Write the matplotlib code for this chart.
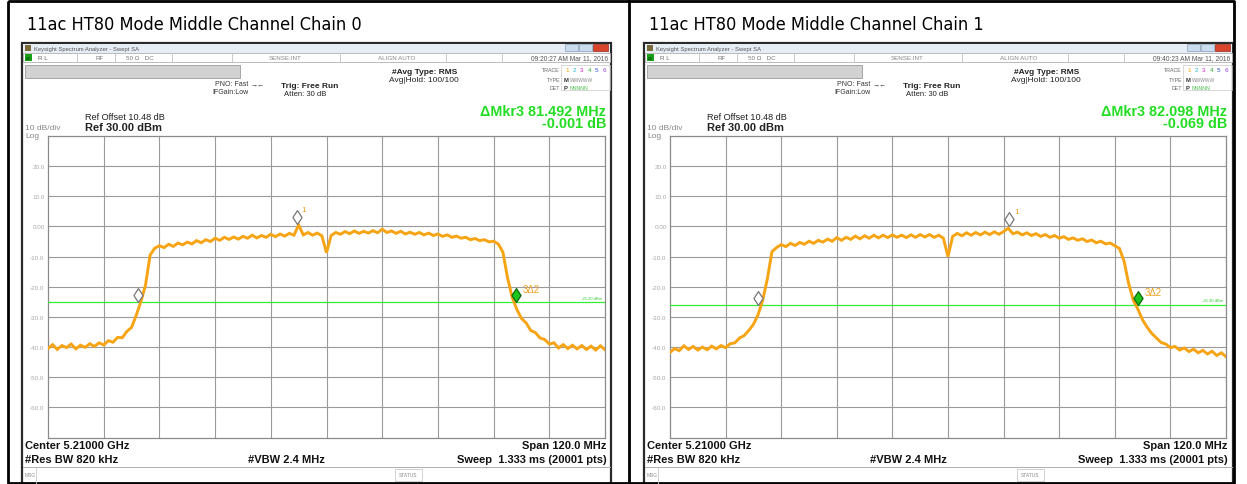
import numpy as np
import matplotlib
matplotlib.use("Agg")
import matplotlib.pyplot as plt
from matplotlib.patches import Rectangle
from matplotlib.path import Path
from matplotlib.textpath import TextPath
from matplotlib import font_manager
from matplotlib.font_manager import FontProperties

W, H = 1247, 485

# ---------------- data ----------------
titles = ["11ac HT80 Mode Middle Channel Chain 0", "11ac HT80 Mode Middle Channel Chain 1"]
timestamps = ["09:20:27 AM Mar 11, 2016", "09:40:23 AM Mar 11, 2016"]
delta_freq_text = ["\u0394Mkr3 81.492 MHz", "\u0394Mkr3 82.098 MHz"]
delta_amp_text = ["-0.001 dB", "-0.069 dB"]
line_labels = ["-25.20 dBm", "-25.90 dBm"]

y_ticks = [20, 10, 0, -10, -20, -30, -40, -50, -60]
y_tick_labels = ["20.0", "10.0", "0.00", "-10.0", "-20.0", "-30.0", "-40.0", "-50.0", "-60.0"]
x_grid = [-48, -36, -24, -12, 0, 12, 24, 36, 48]

freq_mhz = list(range(-60, 61))
trace_chain0 = [
    -40.5, -39.2, -40.8, -39.5, -40.2, -39.0, -40.6, -39.4, -40.1, -38.9,
    -39.8, -38.6, -39.3, -37.9, -38.4, -36.8, -36.9, -34.8, -33.5, -29.5,
    -25.0, -19.5, -9.5, -7.2, -6.4, -7.0, -5.9, -6.6, -5.5, -6.1,
    -5.2, -5.8, -4.7, -5.4, -4.4, -5.0, -3.9, -4.6, -3.6, -4.3,
    -3.5, -4.2, -3.3, -3.9, -2.9, -3.8, -3.0, -3.6, -2.6, -3.4,
    -2.5, -3.2, -2.3, -2.9, 0.5, -2.8, -2.0, -2.9, -2.2, -3.1,
    -8.7,
    -3.0, -2.0, -2.6, -1.7, -2.4, -1.5, -2.3, -1.6, -2.2, -1.4,
    -2.1, -0.9, -2.0, -1.5, -2.3, -1.6, -2.5, -1.9, -2.6, -2.0,
    -2.8, -2.2, -3.0, -2.5, -3.3, -2.8, -3.6, -3.2, -3.9, -3.6,
    -4.4, -4.0, -4.7, -4.4, -5.1, -4.9, -5.8, -8.5, -17.0, -23.5,
    -27.5, -30.5, -32.0, -34.5, -35.2, -37.0, -37.5, -39.0, -38.6, -40.3,
    -39.2, -40.5, -39.4, -40.6, -39.5, -40.8, -39.7, -41.0, -39.6, -40.9,
]
trace_chain1 = [
    -41.8, -40.5, -41.2, -39.6, -40.8, -39.8, -41.0, -40.0, -40.9, -39.7,
    -40.6, -39.5, -40.2, -38.9, -38.6, -37.0, -36.2, -34.5, -32.5, -29.3,
    -24.5, -17.5, -8.4, -7.0, -6.0, -6.7, -5.6, -6.3, -5.3, -5.9,
    -4.9, -5.6, -4.6, -5.2, -4.2, -4.9, -3.7, -4.6, -3.6, -4.3,
    -3.2, -4.1, -3.1, -3.9, -2.9, -3.8, -2.9, -3.7, -2.8, -3.6,
    -2.9, -3.7, -2.8, -3.6, -2.7, -3.5, -2.7, -3.6, -2.9, -3.9,
    -10.0,
    -3.3, -2.3, -3.1, -2.1, -2.9, -2.0, -2.8, -1.9, -2.7, -1.8,
    -2.6, -1.7, -0.6, -2.4, -1.9, -2.8, -2.1, -3.0, -2.4, -3.3,
    -2.7, -3.6, -3.0, -3.9, -3.4, -4.3, -3.8, -4.6, -4.1, -5.0,
    -4.5, -5.4, -4.9, -5.8, -5.5, -6.4, -7.3, -11.5, -19.0, -24.5,
    -27.5, -31.0, -33.5, -35.5, -37.0, -38.5, -39.0, -40.2, -39.8, -41.0,
    -40.3, -41.5, -40.7, -41.9, -41.1, -42.3, -41.4, -42.8, -41.9, -43.2,
]
traces = [trace_chain0, trace_chain1]
marker1 = [(-6.4, 0.8), (13.2, 0.1)]
marker2 = [(-40.6, -25.2), (-41.0, -25.9)]
marker3 = [(40.9, -25.2), (41.1, -25.9)]
display_line = [-25.2, -25.9]

# ---------------- style ----------------
plt.rcParams["font.family"] = ["Liberation Sans", "DejaVu Sans"]

TRACE_C = "#f7a414"
GREEN = "#22dd22"
GRID_C = "#9a9a9a"

# choose a (possibly condensed) sans font for the big titles so that the
# text fits ~330 px wide while being ~18 px tall like the reference
TITLE_W_PX, TITLE_CAP_PX = 330.0, 18.0
cands = []
for fe in font_manager.fontManager.ttflist:
    if fe.style != "normal":
        continue
    if fe.weight not in (400, "normal", "regular", "book"):
        continue
    if fe.name in ("Liberation Sans", "Liberation Sans Narrow", "Arimo") or \
            (fe.stretch != "normal" and fe.name in ("Noto Sans", "DejaVu Sans", "Open Sans", "Roboto")):
        cands.append(fe.fname)
best = None
for fn in sorted(set(cands)):
    try:
        fp = FontProperties(fname=fn, size=10)
        w = TextPath((0, 0), titles[0], prop=fp).get_extents().width
        cap = TextPath((0, 0), "H", prop=fp).get_extents().height
        size = TITLE_W_PX / (w / 10 * 100 / 72)
        cap_px = cap / 10 * size * 100 / 72
        score = abs(cap_px - TITLE_CAP_PX)
        if best is None or score < best[0]:
            best = (score, fn, size)
    except Exception:
        pass
if best is not None:
    TITLE_FP = FontProperties(fname=best[1], size=best[2])
else:
    TITLE_FP = FontProperties(family="Liberation Sans", size=13)

fig = plt.figure(figsize=(W / 100, H / 100), dpi=100)
bg = fig.add_axes([0, 0, 1, 1])
bg.set_xlim(0, W)
bg.set_ylim(H, 0)
bg.axis("off")


def T(x, y, s, **kw):
    kw.setdefault("va", "center")
    kw.setdefault("ha", "left")
    return bg.text(x, y, s, **kw)


def R(x0, y0, x1, y1, **kw):
    bg.add_patch(Rectangle((x0, y0), x1 - x0, y1 - y0, **kw))


# table borders
bg.plot([8, 1234, 1234, 8, 8], [1.5, 1.5, 484, 484, 1.5], color="black", lw=2, solid_capstyle="butt")
bg.plot([629, 629], [1.5, 485], color="black", lw=2)

diamond = Path([(0, 0), (0.33, 0.5), (0, 1), (-0.33, 0.5), (0, 0)],
               [Path.MOVETO, Path.LINETO, Path.LINETO, Path.LINETO, Path.CLOSEPOLY])

panels = [(22, 611, 48, 605), (644, 1233, 670, 1226)]

for i, (sx0, sx1, gx0, gx1) in enumerate(panels):
    # title text
    T(sx0 + 5, 25, titles[i], fontproperties=TITLE_FP, color="black")

    # screenshot frame
    R(sx0, 44, sx1, 486, facecolor="white", edgecolor="#2a2a2a", lw=1.6, zorder=1)
    # title bar
    R(sx0 + 1, 44.5, sx1 - 1, 53.5, facecolor="#e6edf5", edgecolor="none", zorder=2)
    R(sx0 + 3, 46, sx0 + 9, 51.5, facecolor="#7a6a3a", edgecolor="none", zorder=3)
    T(sx0 + 12, 49, "Keysight Spectrum Analyzer - Swept SA", fontsize=4.2, color="#555555", zorder=3)
    R(sx1 - 46, 45, sx1 - 33, 52, facecolor="#c9dcee", edgecolor="#8aa0b8", lw=0.5, zorder=3)
    R(sx1 - 32, 45, sx1 - 19, 52, facecolor="#c9dcee", edgecolor="#8aa0b8", lw=0.5, zorder=3)
    R(sx1 - 18, 45, sx1 - 3, 52, facecolor="#d8452c", edgecolor="#9a2a1a", lw=0.5, zorder=3)
    # status row
    R(sx0 + 1, 54, sx1 - 1, 63, facecolor="white", edgecolor="#b0b0b0", lw=0.6, zorder=2)
    R(sx0 + 3, 55, sx0 + 10, 62, facecolor="#18a018", edgecolor="none", zorder=3)
    T(sx0 + 6.5, 58.5, "LXI", fontsize=2.5, color="#003300", ha="center", zorder=4)
    for sx in [55, 93, 150, 210, 318, 424, 480]:
        bg.plot([sx0 + sx, sx0 + sx], [54.5, 62.5], color="#c0c0c0", lw=0.6, zorder=3)
    T(sx0 + 16, 58.5, "R L", fontsize=4.5, color="#666666", zorder=3)
    T(sx0 + 74, 58.5, "RF", fontsize=4.5, color="#777777", zorder=3)
    T(sx0 + 104, 58.5, "50 \u03a9   DC", fontsize=4.5, color="#777777", zorder=3)
    T(sx0 + 247, 58.5, "SENSE:INT", fontsize=4.5, color="#888888", zorder=3)
    T(sx0 + 356, 58.5, "ALIGN AUTO", fontsize=4.5, color="#888888", zorder=3)
    T(sx1 - 3, 58.5, timestamps[i], fontsize=4.8, color="#555555", ha="right", zorder=3)
    # grey bar
    R(sx0 + 3, 66, sx0 + 218, 79, facecolor="#d2d2d2", edgecolor="#9a9a9a", lw=0.6, zorder=2)
    # settings
    T(sx0 + 193, 85, "PNO: Fast", fontsize=5, color="#333333")
    T(sx0 + 190, 93, "IFGain:Low", fontsize=5, color="#333333")
    T(sx0 + 229, 85, "\u2192\u2190", fontsize=5, color="#333333")
    T(sx0 + 259, 86, "Trig: Free Run", fontsize=6, color="#222222", fontweight="bold")
    T(sx0 + 262, 94, "Atten: 30 dB", fontsize=5.5, color="#222222")
    T(sx0 + 370, 72, "#Avg Type: RMS", fontsize=6, color="#222222", fontweight="bold")
    T(sx0 + 367, 81, "Avg|Hold: 100/100", fontsize=6, color="#222222")
    # TRACE/TYPE/DET box
    T(sx1 - 51, 71, "TRACE", fontsize=3.8, color="#666666", ha="right")
    T(sx1 - 51, 80, "TYPE", fontsize=3.8, color="#666666", ha="right")
    T(sx1 - 51, 88, "DET", fontsize=3.8, color="#666666", ha="right")
    R(sx1 - 50, 66, sx1 - 1, 91, facecolor="none", edgecolor="#c8c8c8", lw=0.5)
    for k, c in enumerate(["#f0a000", "#20b8c8", "#d020c0", "#30b030", "#3050e0", "#9040d0"]):
        T(sx1 - 46 + k * 7.5, 71, str(k + 1), fontsize=4.5, color=c)
    T(sx1 - 47, 80, "M", fontsize=4.2, color="#333333", fontweight="bold")
    T(sx1 - 41, 80, "WWWWW", fontsize=3.5, color="#888888")
    T(sx1 - 47, 88, "P", fontsize=4.2, color="#333333", fontweight="bold")
    T(sx1 - 41, 88, "NNNNN", fontsize=3.8, color="#50c050")

    # marker readout
    T(gx1 + 1, 112, delta_freq_text[i], fontsize=10.4, color=GREEN, fontweight="bold", ha="right")
    T(gx1 + 1, 124.5, delta_amp_text[i], fontsize=10.4, color=GREEN, fontweight="bold", ha="right")
    # reference
    T(sx0 + 63, 117.5, "Ref Offset 10.48 dB", fontsize=6.6, color="#222222")
    T(sx0 + 63, 128, "Ref 30.00 dBm", fontsize=8, color="#222222", fontweight="bold")
    T(sx0 + 3, 129, "10 dB/div", fontsize=6, color="#888888")
    T(sx0 + 3, 137, "Log", fontsize=6, color="#888888")

    # bottom annotations
    T(sx0 + 3, 446, "Center 5.21000 GHz", fontsize=8, color="#111111", fontweight="bold")
    T(sx0 + 3, 460, "#Res BW 820 kHz", fontsize=8, color="#111111", fontweight="bold")
    T(sx0 + 226, 460, "#VBW 2.4 MHz", fontsize=8, color="#111111", fontweight="bold")
    T(gx1 + 1, 446, "Span 120.0 MHz", fontsize=8, color="#111111", fontweight="bold", ha="right")
    T(gx1 + 2, 460, "Sweep  1.333 ms (20001 pts)", fontsize=8, color="#111111", fontweight="bold", ha="right")
    bg.plot([sx0 + 1, sx1 - 1], [468, 468], color="#b0b0b0", lw=0.7)
    bg.plot([sx0 + 14, sx0 + 14], [468, 485], color="#c8c8c8", lw=0.6)
    T(sx0 + 3, 476, "MSG", fontsize=3.5, color="#888888")
    R(sx0 + 373, 470, sx0 + 400, 482, facecolor="none", edgecolor="#c0c0c0", lw=0.5)
    T(sx0 + 386.5, 476, "STATUS", fontsize=3.5, color="#888888", ha="center")

    # ---------- graticule plot ----------
    ax = fig.add_axes([gx0 / W, 1 - 438.5 / H, (gx1 - gx0) / W, (438.5 - 137) / H])
    ax.set_xlim(-60, 60)
    ax.set_ylim(-70, 30)
    ax.set_facecolor("white")
    ax.set_xticks(x_grid)
    ax.set_xticklabels([])
    ax.set_yticks(y_ticks)
    ax.set_yticklabels(y_tick_labels)
    ax.tick_params(axis="both", length=0, labelsize=4.5, labelcolor="#a8a8a8", pad=2.5)
    ax.grid(True, color=GRID_C, lw=0.8)
    for sp in ax.spines.values():
        sp.set_color("#8a8a8a")
        sp.set_linewidth(0.9)

    ax.axhline(display_line[i], color="#33ee33", lw=0.9, zorder=3)
    ax.text(0.995, display_line[i] + 0.8, line_labels[i], transform=ax.get_yaxis_transform(),
            fontsize=3, color="#33cc33", ha="right", va="bottom")
    ax.plot(freq_mhz, traces[i], color=TRACE_C, lw=2.1, zorder=4, solid_joinstyle="miter")

    # markers
    f1, v1 = marker1[i]
    f2, v2 = marker2[i]
    f3, v3 = marker3[i]
    ax.plot([f1], [v1], marker=diamond, ms=20, mfc="white", mec="#777777", mew=0.9, ls="none", zorder=5)
    ax.plot([f2], [v2], marker=diamond, ms=20, mfc="white", mec="#777777", mew=0.9, ls="none", zorder=5)
    ax.plot([f3], [v3], marker=diamond, ms=20, mfc="#1cc41c", mec="#0a6a0a", mew=0.9, ls="none", zorder=5)
    ax.annotate("1", (f1, v1), xytext=(5, 15), textcoords="offset pixels", fontsize=6,
                color="#f0a020", ha="left", va="center", zorder=6)
    ax.annotate("3\u03942", (f3, v3), xytext=(6, 13), textcoords="offset pixels", fontsize=7,
                color="#f0a020", ha="left", va="center", zorder=6)

fig.savefig("out.png", dpi=100)
